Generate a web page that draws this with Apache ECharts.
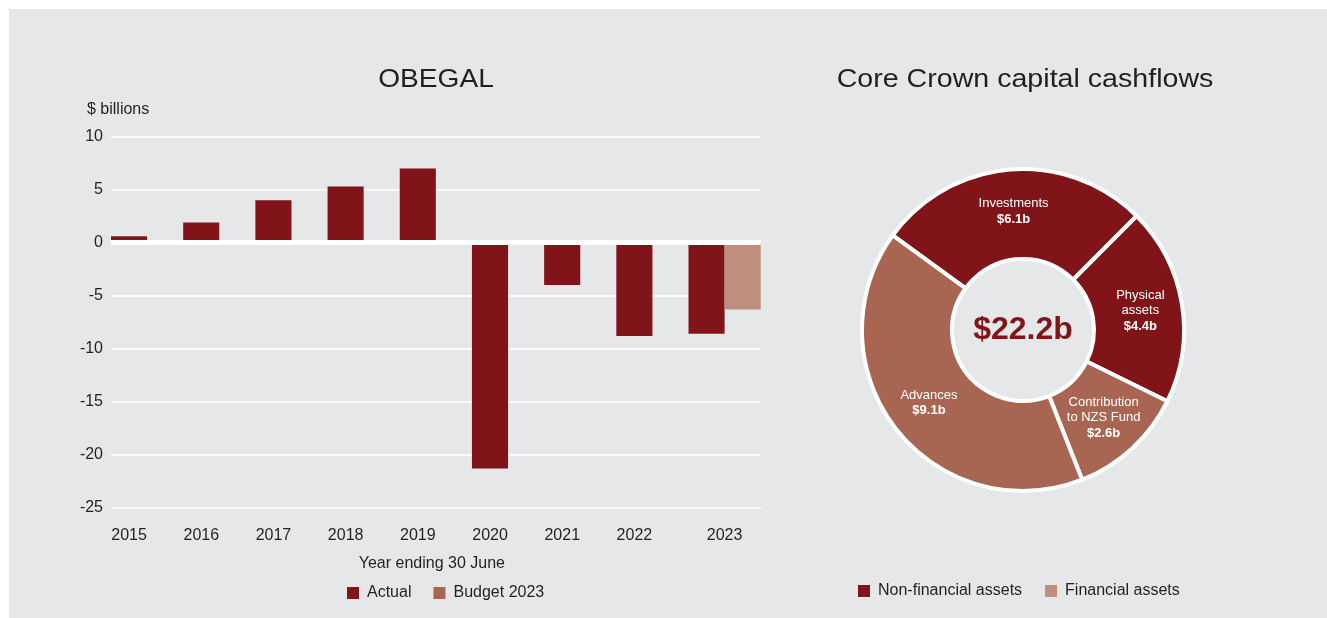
<!DOCTYPE html>
<html>
<head>
<meta charset="utf-8">
<script src="https://cdn.jsdelivr.net/npm/echarts@6/dist/echarts.min.js"></script>
<style>
  html, body { margin: 0; padding: 0; background: #ffffff; }
  #chart { width: 1327px; height: 618px; }
</style>
</head>
<body>
<div id="chart"></div>
<script>
// OBEGAL by year ending 30 June ($ billions)
const years = ['2015', '2016', '2017', '2018', '2019', '2020', '2021', '2022', '2023'];
const actual = [0.6, 1.9, 4.0, 5.3, 7.0, -21.3, -4.0, -8.8, -8.6];
const budget2023 = [null, null, null, null, null, null, null, null, -6.3];
const yTicks = { min: -25, max: 10, interval: 5 };

// Core Crown capital cashflows ($ billions)
const sliceNames = ['Investments', 'Physical assets', 'Contribution to NZS Fund', 'Advances'];
const sliceLabels = ['Investments', 'Physical\nassets', 'Contribution\nto NZS Fund', 'Advances'];
const sliceValues = [6.1, 4.4, 2.6, 9.1];
const sliceGroups = ['Non-financial assets', 'Non-financial assets', 'Financial assets', 'Financial assets'];

const DARK_RED = '#801418';
const MID_BROWN = '#A86552';
const LIGHT_BROWN = '#C08E7C';
const PANEL = '#E6E7E8';
const INK = '#231F20';
const FONT = '"Liberation Sans", Arial, sans-serif';

const groupColor = { 'Non-financial assets': DARK_RED, 'Financial assets': MID_BROWN };
const total = sliceValues.reduce((a, b) => a + b, 0);

const chart = echarts.init(document.getElementById('chart'), null, { renderer: 'canvas' });

chart.setOption({
  backgroundColor: '#ffffff',
  textStyle: { fontFamily: FONT, color: INK },
  animation: false,
  graphic: [
    { type: 'rect', z: -10, shape: { x: 9, y: 9, width: 1318, height: 609 }, style: { fill: PANEL } },
    // headings are set a little wide, like tracked-out display type
    { type: 'text', x: 436, y: 79.5, scaleX: 1.08, style: { text: 'OBEGAL', font: '26px ' + FONT, fill: INK, align: 'center', verticalAlign: 'middle' } },
    { type: 'text', x: 1025, y: 79.5, scaleX: 1.1, style: { text: 'Core Crown capital cashflows', font: '26px ' + FONT, fill: INK, align: 'center', verticalAlign: 'middle' } },
    { type: 'text', x: 87, y: 109.5, style: { text: '$ billions', font: '16px ' + FONT, fill: INK, align: 'left', verticalAlign: 'middle' } },
    { type: 'text', x: 1023, y: 330, z: 10, style: { text: '$' + total.toFixed(1) + 'b', font: 'bold 32px ' + FONT, fill: DARK_RED, align: 'center', verticalAlign: 'middle' } }
  ],
  legend: [
    {
      left: 347, top: 585, padding: 0, itemWidth: 12, itemHeight: 12, itemGap: 22, icon: 'rect',
      textStyle: { fontSize: 16, color: INK, padding: [0, 0, 0, 3] },
      data: [
        { name: 'Actual', itemStyle: { color: DARK_RED } },
        { name: 'Budget 2023', itemStyle: { color: MID_BROWN } }
      ],
      selectedMode: false
    },
    {
      left: 858, top: 583, padding: 0, itemWidth: 12, itemHeight: 12, itemGap: 23, icon: 'rect',
      textStyle: { fontSize: 16, color: INK, padding: [0, 0, 0, 3] },
      data: [
        { name: 'Non-financial assets', itemStyle: { color: DARK_RED } },
        { name: 'Financial assets', itemStyle: { color: LIGHT_BROWN } }
      ],
      selectedMode: false
    }
  ],
  grid: { left: 111, right: 566.3, top: 136.7, bottom: 110.3, containLabel: false },
  xAxis: {
    type: 'category',
    data: years,
    axisLine: { show: false, onZero: false },
    axisTick: { show: false },
    splitLine: { show: false },
    axisLabel: {
      interval: 0,
      margin: 20,
      fontSize: 16,
      color: INK,
      // years with a single bar are labelled under that bar; the last year sits between its two bars
      formatter: (v, i) => (budget2023[i] == null ? '{single|' + v + '}' : '{pair|' + v + '}'),
      rich: {
        single: { fontSize: 16, color: INK, padding: [0, 36, 0, 0] },
        pair: { fontSize: 16, color: INK }
      }
    },
    name: 'Year ending 30 June',
    nameLocation: 'middle',
    nameGap: 48,
    nameTextStyle: { fontSize: 16, color: INK, padding: [0, 8, 0, 0] }
  },
  yAxis: {
    type: 'value',
    min: yTicks.min,
    max: yTicks.max,
    interval: yTicks.interval,
    axisLine: { show: false },
    axisTick: { show: false },
    axisLabel: { fontSize: 16, color: INK, margin: 8 },
    splitLine: { lineStyle: { color: '#ffffff', width: 1.5 } }
  },
  series: [
    {
      name: 'Actual',
      type: 'bar',
      data: actual,
      barGap: '0%',
      barCategoryGap: '0%',
      itemStyle: { color: DARK_RED },
      markLine: {
        silent: true,
        symbol: 'none',
        label: { show: false },
        lineStyle: { color: '#ffffff', width: 5, type: 'solid' },
        data: [{ yAxis: 0 }]
      }
    },
    {
      name: 'Budget 2023',
      type: 'bar',
      data: budget2023,
      barGap: '0%',
      barCategoryGap: '0%',
      itemStyle: { color: LIGHT_BROWN }
    },
    { name: 'Non-financial assets', type: 'line', data: [], itemStyle: { color: DARK_RED } },
    { name: 'Financial assets', type: 'line', data: [], itemStyle: { color: LIGHT_BROWN } },
    {
      name: 'Core Crown capital cashflows',
      type: 'pie',
      center: [1023, 330],
      radius: [71, 161],
      startAngle: 144,
      clockwise: true,
      avoidLabelOverlap: false,
      itemStyle: { borderColor: '#ffffff', borderWidth: 4 },
      label: {
        show: true,
        position: 'inside',
        color: '#ffffff',
        fontSize: 13,
        lineHeight: 15.5,
        formatter: (p) => '{n|' + sliceLabels[p.dataIndex].split('\n').join('}\n{n|') + '}\n{v|$' + p.value.toFixed(1) + 'b}',
        rich: {
          n: { fontSize: 13, color: '#ffffff', lineHeight: 15.5 },
          v: { fontSize: 13, color: '#ffffff', fontWeight: 'bold', lineHeight: 15.5 }
        }
      },
      labelLine: { show: false },
      emphasis: { disabled: true },
      data: sliceNames.map((n, i) => ({
        name: n,
        value: sliceValues[i],
        itemStyle: { color: groupColor[sliceGroups[i]] }
      }))
    }
  ]
});
</script>
</body>
</html>
